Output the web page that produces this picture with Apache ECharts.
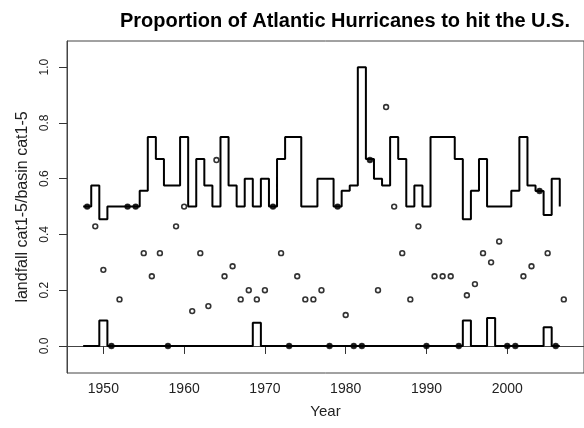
<!DOCTYPE html>
<html><head><meta charset="utf-8">
<script src="https://cdn.jsdelivr.net/npm/echarts@6/dist/echarts.min.js"></script>
<style>html,body{margin:0;padding:0;background:#fff}#c{width:584px;height:428px}</style>
</head><body><div id="c"></div>
<script>
const years = [1948,1949,1950,1951,1952,1953,1954,1955,1956,1957,1958,1959,1960,1961,1962,1963,1964,1965,1966,1967,1968,1969,1970,1971,1972,1973,1974,1975,1976,1977,1978,1979,1980,1981,1982,1983,1984,1985,1986,1987,1988,1989,1990,1991,1992,1993,1994,1995,1996,1997,1998,1999,2000,2001,2002,2003,2004,2005,2006,2007];
const proportion = [0.5,0.429,0.273,0,0.167,0.5,0.5,0.333,0.25,0.333,0,0.429,0.5,0.125,0.333,0.143,0.667,0.25,0.286,0.167,0.2,0.167,0.2,0.5,0.333,0,0.25,0.167,0.167,0.2,0,0.5,0.111,0,0,0.667,0.2,0.857,0.5,0.333,0.167,0.429,0,0.25,0.25,0.25,0,0.182,0.222,0.333,0.3,0.375,0,0,0.25,0.286,0.556,0.333,0,0.167];
const upperBand = [0.5,0.576,0.455,0.5,0.5,0.5,0.5,0.557,0.75,0.671,0.576,0.576,0.75,0.5,0.671,0.576,0.5,0.75,0.576,0.5,0.6,0.5,0.6,0.5,0.671,0.75,0.75,0.5,0.5,0.6,0.6,0.5,0.557,0.576,1.0,0.671,0.6,0.576,0.75,0.671,0.5,0.576,0.5,0.75,0.75,0.75,0.671,0.455,0.557,0.671,0.5,0.5,0.5,0.557,0.75,0.576,0.556,0.47,0.6,0.5];
const lowerBand = [0,0,0.091,0,0,0,0,0,0,0,0,0,0,0,0,0,0,0,0,0,0,0.083,0,0,0,0,0,0,0,0,0,0,0,0,0,0,0,0,0,0,0,0,0,0,0,0,0,0.091,0,0,0.1,0,0,0,0,0,0,0.067,0,0];
const xTicks = [1950,1960,1970,1980,1990,2000];
const yTicks = [0,0.2,0.4,0.6,0.8,1.0];

const chart = echarts.init(document.getElementById('c'), null, {renderer:'canvas'});
const onLine = (i) => Math.abs(proportion[i]-upperBand[i]) < 0.02 || Math.abs(proportion[i]-lowerBand[i]) < 0.02;
const pointData = years.map((y,i)=>({value:[y, proportion[i]], itemStyle:{color: onLine(i) ? '#000' : '#fff'}}));
const stepData = (arr) => years.map((y,i)=>[y-0.5, arr[i]]);
const font = 'Liberation Sans, Arial, sans-serif';

chart.setOption({
  animation:false,
  backgroundColor:'#fff',
  title:{text:'Proportion of Atlantic Hurricanes to hit the U.S.', left:345, top:21, padding:0,
    textAlign:'center', textVerticalAlign:'middle',
    textStyle:{fontFamily:font, fontWeight:'bold', fontSize:20, color:'#000'}},
  grid:{left:67, top:41, right:-12.4, bottom:55, show:true, borderColor:'#444', borderWidth:1},
  xAxis:{type:'value', min:1945.5, max:2009.5,
    name:'Year', nameLocation:'middle', nameGap:31,
    nameTextStyle:{fontFamily:font, fontSize:15, color:'#222'},
    axisLine:{show:true, lineStyle:{color:'#444', width:1}},
    axisTick:{show:true, inside:false, length:8, lineStyle:{color:'#333'}, customValues:xTicks},
    axisLabel:{fontFamily:font, fontSize:14, color:'#222', margin:9, customValues:xTicks,
      formatter:(v)=>String(Math.round(v))},
    splitLine:{show:false}},
  yAxis:{type:'value', min:-0.097, max:1.094,
    name:'landfall cat1-5/basin cat1-5', nameLocation:'middle', nameGap:36, nameRotate:90,
    nameTextStyle:{fontFamily:font, fontSize:16, color:'#222'},
    axisLine:{show:true, lineStyle:{color:'#444', width:1}},
    axisTick:{show:true, inside:false, length:8, lineStyle:{color:'#333'}, customValues:yTicks},
    axisLabel:{fontFamily:font, fontSize:12, color:'#222', margin:16, rotate:90,
      customValues:yTicks, formatter:(v)=>v.toFixed(1)},
    splitLine:{show:false}},
  series:[
    {type:'scatter', data:pointData, symbol:'circle', symbolSize:4.8,
      itemStyle:{borderColor:'#000', borderWidth:1.6}, z:2},
    {type:'line', data:stepData(upperBand), step:'end', showSymbol:false,
      lineStyle:{color:'#000', width:2}, z:3},
    {type:'line', data:stepData(lowerBand), step:'end', showSymbol:false,
      lineStyle:{color:'#000', width:2}, z:3}
  ]
});
</script></body></html>
